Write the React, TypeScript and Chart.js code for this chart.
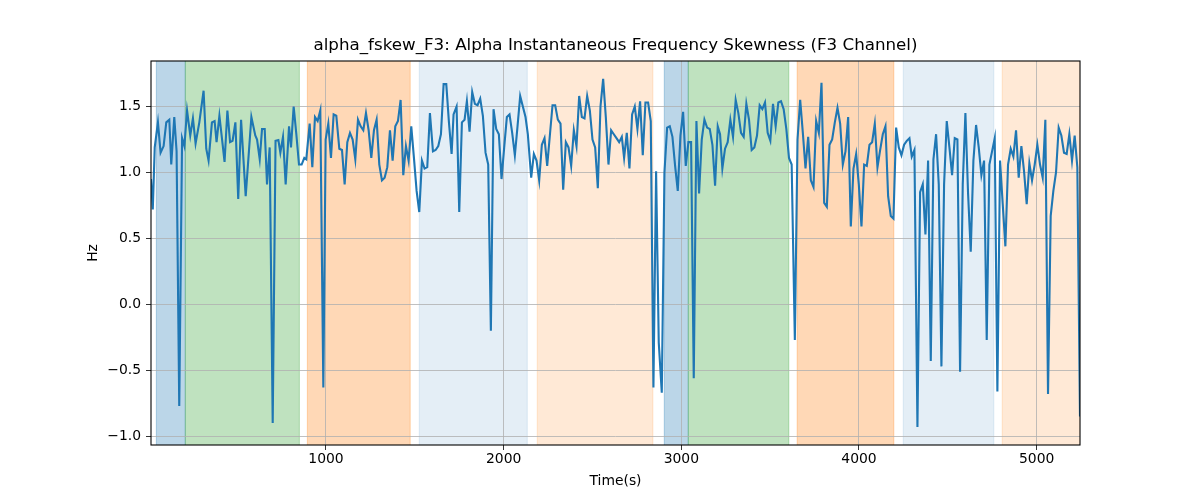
import { useEffect, useRef } from "react";
import { Chart, registerables } from "chart.js";

Chart.register(...registerables);

const TITLE = "alpha_fskew_F3: Alpha Instantaneous Frequency Skewness (F3 Channel)";
const FONT = "'DejaVu Sans', sans-serif";

// time (s) of each sample
const times = [
  15, 25, 36, 54, 69, 86, 101, 118, 129, 146, 159, 174, 190, 203, 218, 236, 251, 266, 287, 311,
  326, 339, 358, 373, 384, 400, 415, 429, 445, 460, 474, 490, 506, 522, 548, 580, 602, 612, 627, 640,
  655, 668, 683, 700, 716, 732, 743, 758, 773, 792, 803, 818, 833, 848, 863, 878, 889, 908, 923, 938,
  953, 968, 985, 998, 1013, 1028, 1043, 1058, 1075, 1090, 1105, 1120, 1135, 1150, 1165, 1180, 1195, 1210, 1225, 1240,
  1255, 1270, 1285, 1300, 1315, 1330, 1345, 1360, 1375, 1390, 1405, 1420, 1435, 1450, 1465, 1480, 1495, 1510, 1525, 1540,
  1555, 1570, 1585, 1602, 1617, 1632, 1647, 1662, 1677, 1692, 1707, 1718, 1735, 1750, 1765, 1780, 1793, 1808, 1823, 1838,
  1853, 1868, 1883, 1898, 1913, 1928, 1943, 1958, 1973, 1988, 2003, 2018, 2033, 2048, 2063, 2078, 2093, 2108, 2123, 2136,
  2155, 2170, 2185, 2200, 2215, 2230, 2245, 2260, 2275, 2290, 2305, 2320, 2335, 2350, 2365, 2380, 2395, 2410, 2425, 2440,
  2455, 2470, 2485, 2500, 2515, 2530, 2545, 2560, 2575, 2590, 2605, 2620, 2635, 2650, 2665, 2678, 2693, 2708, 2723, 2738,
  2753, 2768, 2783, 2798, 2813, 2828, 2843, 2858, 2873, 2890, 2905, 2920, 2935, 2950, 2965, 2980, 2995, 3010, 3025, 3040,
  3055, 3070, 3085, 3100, 3115, 3130, 3145, 3160, 3175, 3190, 3205, 3218, 3231, 3246, 3261, 3276, 3291, 3306, 3321, 3336,
  3351, 3366, 3381, 3396, 3411, 3426, 3441, 3456, 3471, 3486, 3501, 3516, 3531, 3546, 3561, 3576, 3591, 3606, 3621, 3639,
  3654, 3669, 3684, 3699, 3714, 3729, 3744, 3759, 3774, 3789, 3804, 3819, 3834, 3849, 3864, 3879, 3894, 3909, 3924, 3939,
  3954, 3969, 3984, 3999, 4014, 4029, 4044, 4059, 4074, 4089, 4104, 4119, 4134, 4149, 4164, 4179, 4194, 4209, 4224, 4239,
  4254, 4269, 4284, 4297, 4312, 4329, 4344, 4359, 4374, 4389, 4404, 4419, 4434, 4449, 4464, 4479, 4494, 4509, 4524, 4539,
  4554, 4569, 4584, 4599, 4614, 4629, 4644, 4659, 4674, 4689, 4704, 4719, 4734, 4749, 4764, 4779, 4794, 4809, 4824, 4839,
  4854, 4869, 4884, 4899, 4914, 4929, 4944, 4959, 4974, 4989, 5004, 5019, 5034, 5049, 5064, 5079, 5094, 5109, 5124, 5139,
  5154, 5169, 5184, 5199, 5214, 5229, 5244,
];

// skewness (Hz) at each time
const skew = [
  0.95, 0.72, 1.19, 1.38, 1.15, 1.2, 1.38, 1.4, 1.06, 1.42, 1.16, -0.77, 1.26, 1.2, 1.47, 1.28, 1.41, 1.22, 1.38, 1.62,
  1.18, 1.09, 1.38, 1.39, 1.23, 1.43, 1.25, 1.08, 1.47, 1.23, 1.24, 1.38, 0.8, 1.4, 0.82, 1.42, 1.28, 1.25, 1.1, 1.33,
  1.33, 0.91, 1.19, -0.9, 1.24, 1.245, 1.15, 1.27, 0.91, 1.35, 1.19, 1.5, 1.29, 1.06, 1.06, 1.11, 1.1, 1.37, 1.04, 1.42,
  1.39, 1.47, -0.63, 1.25, 1.37, 1.11, 1.44, 1.43, 1.18, 1.17, 0.91, 1.23, 1.3, 1.25, 1.1, 1.4, 1.35, 1.32, 1.45, 1.32,
  1.11, 1.32, 1.4, 1.06, 0.94, 0.96, 1.04, 1.32, 1.09, 1.35, 1.39, 1.55, 0.98, 1.2, 1.09, 1.35, 1.11, 0.86, 0.7, 1.09,
  1.03, 1.04, 1.45, 1.16, 1.17, 1.2, 1.29, 1.67, 1.67, 1.38, 1.14, 1.44, 1.5, 0.7, 1.38, 1.4, 1.54, 1.31, 1.61, 1.52,
  1.51, 1.56, 1.43, 1.15, 1.06, -0.2, 1.48, 1.33, 1.29, 0.95, 1.19, 1.42, 1.44, 1.3, 1.13, 1.35, 1.58, 1.5, 1.42, 1.29,
  0.96, 1.14, 1.09, 0.94, 1.21, 1.26, 1.05, 1.28, 1.51, 1.51, 1.4, 1.37, 0.87, 1.23, 1.19, 1.05, 1.32, 1.2, 1.58, 1.42,
  1.41, 1.58, 1.47, 1.25, 1.19, 0.88, 1.5, 1.71, 1.42, 1.06, 1.32, 1.29, 1.26, 1.23, 1.27, 1.11, 1.3, 1.03, 1.44, 1.5,
  1.33, 1.54, 1.13, 1.53, 1.53, 1.39, -0.63, 1.01, -0.29, -0.67, 1.0, 1.34, 1.35, 1.27, 1.05, 0.86, 1.28, 1.46, 1.05, 1.23,
  1.23, -0.56, 1.39, 0.84, 1.25, 1.4, 1.34, 1.33, 1.21, 0.9, 1.35, 1.29, 1.03, 1.18, 1.23, 1.4, 1.27, 1.55, 1.45, 1.3,
  1.27, 1.52, 1.4, 1.17, 1.19, 1.28, 1.51, 1.48, 1.53, 1.3, 1.24, 1.52, 1.35, 1.53, 1.54, 1.48, 1.33, 1.11, 1.06, -0.27,
  1.25, 1.55, 1.3, 1.03, 1.27, 0.94, 0.89, 1.39, 1.3, 1.68, 0.77, 0.74, 1.21, 1.25, 1.38, 1.49, 1.37, 1.06, 1.16, 1.42,
  0.59, 1.03, 1.14, 0.91, 0.59, 1.06, 1.05, 1.21, 1.23, 1.37, 1.04, 1.17, 1.29, 1.35, 0.82, 0.67, 0.65, 1.34, 1.19, 1.13,
  1.21, 1.24, 1.26, 1.12, 1.17, -0.93, 0.85, 0.91, 0.53, 1.09, -0.43, 1.1, 1.29, 0.91, -0.47, 0.91, 1.39, 1.19, 0.98, 1.26,
  1.25, -0.51, 0.91, 1.45, 0.84, 0.4, 1.09, 1.36, 1.19, 0.98, 1.09, -0.27, 1.06, 1.16, 1.26, -0.66, 1.09, 0.76, 0.44, 1.06,
  1.18, 1.12, 1.32, 0.96, 1.2, 1.01, 0.76, 1.07, 0.94, 1.06, 1.21, 1.06, 0.96, 1.4, -0.68, 0.67, 0.86, 1.0, 1.34, 1.28,
  1.15, 1.14, 1.29, 1.09, 1.28, 1.04, -0.85,
];

// shaded segments (time range + colour)
const spanStart = [45, 208, 895, 1525, 2189, 2904, 3039, 3652, 4249, 4806];
const spanEnd = [208, 850, 1474, 2133, 2840, 3039, 3605, 4196, 4759, 5300];
const spanColor = [
  "rgba(31,119,180,0.3)",
  "rgba(44,160,44,0.3)",
  "rgba(255,127,14,0.3)",
  "rgba(31,119,180,0.12)",
  "rgba(255,127,14,0.17)",
  "rgba(31,119,180,0.3)",
  "rgba(44,160,44,0.3)",
  "rgba(255,127,14,0.3)",
  "rgba(31,119,180,0.12)",
  "rgba(255,127,14,0.17)",
];

const xTicks = [1000, 2000, 3000, 4000, 5000];
const yTicks = [-1, -0.5, 0, 0.5, 1, 1.5];

const spansPlugin = {
  id: "spans",
  beforeDraw(chart: Chart) {
    const { ctx, chartArea: a, scales } = chart;
    const x = scales.x;
    ctx.save();
    ctx.beginPath();
    ctx.rect(a.left, a.top, a.right - a.left, a.bottom - a.top);
    ctx.clip();
    spanStart.forEach((s, i) => {
      const x0 = x.getPixelForValue(s);
      const x1 = x.getPixelForValue(spanEnd[i]);
      ctx.fillStyle = spanColor[i];
      ctx.fillRect(x0, a.top, x1 - x0, a.bottom - a.top);
      ctx.strokeStyle = spanColor[i];
      ctx.lineWidth = 1;
      ctx.strokeRect(x0, a.top - 2, x1 - x0, a.bottom - a.top + 4);
    });
    ctx.restore();
  },
};

const framePlugin = {
  id: "frame",
  afterDraw(chart: Chart) {
    const { ctx, chartArea: a } = chart;
    ctx.save();
    ctx.strokeStyle = "#000";
    ctx.lineWidth = 1.1;
    ctx.strokeRect(a.left, a.top, a.right - a.left, a.bottom - a.top);
    const cx = (a.left + a.right) / 2;
    ctx.fillStyle = "#000";
    ctx.textAlign = "center";
    ctx.textBaseline = "middle";
    ctx.font = `16.7px ${FONT}`;
    ctx.fillText(TITLE, cx, 46);
    ctx.font = `13.9px ${FONT}`;
    ctx.fillText("Time(s)", cx, 481);
    ctx.translate(93, (a.top + a.bottom) / 2);
    ctx.rotate(-Math.PI / 2);
    ctx.fillText("Hz", 0, 0);
    ctx.restore();
  },
};

export default function App() {
  const canvasRef = useRef<HTMLCanvasElement>(null);

  useEffect(() => {
    document.body.style.margin = "0";
    if (!canvasRef.current) return;

    const chart = new Chart(canvasRef.current, {
      type: "line",
      data: {
        datasets: [
          {
            data: times.map((t, i) => ({ x: t, y: skew[i] })),
            borderColor: "#1f77b4",
            borderWidth: 2.1,
            pointRadius: 0,
            tension: 0,
            fill: false,
          },
        ],
      },
      options: {
        responsive: false,
        animation: false,
        events: [],
        layout: { padding: { left: 0, top: 61, right: 120, bottom: 0 } },
        plugins: { legend: { display: false }, tooltip: { enabled: false }, title: { display: false } },
        scales: {
          x: {
            type: "linear",
            min: 15,
            max: 5244,
            afterBuildTicks: (s: any) => {
              s.ticks = xTicks.map((v) => ({ value: v }));
            },
            afterFit: (s: any) => {
              s.height = 55;
            },
            grid: { color: "#b0b0b0", lineWidth: 0.8, tickColor: "#000", tickLength: 5 },
            border: { display: false },
            ticks: {
              color: "#000",
              padding: 1,
              maxRotation: 0,
              font: { family: FONT, size: 13.9 },
              callback: (v: any) => String(v),
            },
          },
          y: {
            type: "linear",
            min: -1.066,
            max: 1.845,
            afterBuildTicks: (s: any) => {
              s.ticks = yTicks.map((v) => ({ value: v }));
            },
            afterFit: (s: any) => {
              s.width = 151;
            },
            grid: { color: "#b0b0b0", lineWidth: 0.8, tickColor: "#000", tickLength: 5 },
            border: { display: false },
            ticks: {
              color: "#000",
              padding: 5,
              font: { family: FONT, size: 13.9 },
              callback: (v: any) => Number(v).toFixed(1).replace("-", "\u2212"),
            },
          },
        },
      },
      plugins: [spansPlugin, framePlugin],
    });

    return () => chart.destroy();
  }, []);

  return (
    <div style={{ width: 1200, height: 500, background: "#fff" }}>
      <canvas ref={canvasRef} width={1200} height={500} />
    </div>
  );
}
